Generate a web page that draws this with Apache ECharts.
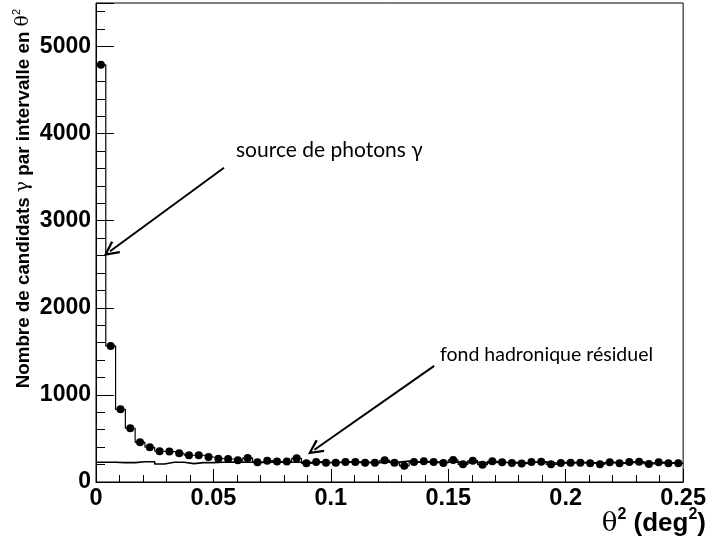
<!DOCTYPE html>
<html>
<head>
<meta charset="utf-8">
<script src="https://cdn.jsdelivr.net/npm/echarts@6/dist/echarts.min.js"></script>
<style>
html, body { margin: 0; padding: 0; background: #fff; }
#main { width: 709px; height: 540px; }
</style>
</head>
<body>
<div id="main"></div>
<script>
// theta2 histogram, 60 bins between 0 and 0.25 deg2
var binWidth = 0.25 / 60;
var onCounts = [4790, 1563, 835, 617, 456, 399, 353, 349, 330, 307,
    307, 287, 268, 264, 249, 276, 228, 245, 235, 236,
    272, 215, 230, 222, 222, 230, 230, 222, 222, 249,
    222, 186, 230, 238, 230, 218, 253, 203, 245, 199,
    238, 226, 218, 211, 230, 233, 203, 218, 222, 222,
    215, 203, 226, 215, 230, 233, 207, 226, 215, 215];
var offCounts = [226, 226, 222, 222, 233, 233, 207, 226, 226, 211,
    222, 222, 226, 228, 230, 226, 224, 228, 230, 226,
    226, 222, 228, 224, 226, 228, 224, 226, 222, 230,
    228, 241, 226, 228, 224, 226, 230, 222, 226, 220,
    228, 224, 222, 220, 226, 228, 218, 222, 224, 222,
    220, 218, 224, 220, 226, 224, 218, 222, 220, 218];
var xTicks = [0, 0.05, 0.1, 0.15, 0.2, 0.25];
// arrows: [start, end] in data units
var arrowSource = [[0.0545, 3609], [0.0060, 2650]];
var arrowFond = [[0.1440, 1333], [0.0930, 370]];

function stepData(counts) {
    var out = [];
    for (var i = 0; i < counts.length; i++) {
        out.push([i * binWidth, counts[i]]);
    }
    out.push([counts.length * binWidth, counts[counts.length - 1]]);
    return out;
}

function pointData(counts) {
    var out = [];
    for (var i = 0; i < counts.length; i++) {
        out.push([(i + 0.5) * binWidth, counts[i]]);
    }
    return out;
}

var arrowHead = 'path://M0,0 L6,11 L4.4,12 L0,3.6 L-4.4,12 L-6,11 Z';

var chart = echarts.init(document.getElementById('main'));
var labelFont = 'Liberation Sans, Arial, sans-serif';
chart.setOption({
    animation: false,
    grid: { left: 96, right: 21, top: 3, bottom: 58, show: true, borderColor: '#000', borderWidth: 1 },
    xAxis: {
        type: 'value', min: 0, max: 0.25, interval: 0.05,
        axisLine: { lineStyle: { color: '#000', width: 1 } },
        axisTick: { inside: true, length: 13, lineStyle: { color: '#000' } },
        minorTick: { show: true, splitNumber: 5, length: 7, lineStyle: { color: '#000' } },
        splitLine: { show: false },
        axisLabel: {
            color: '#000', fontFamily: labelFont, fontWeight: 'bold', fontSize: 23.5, margin: 5,
            formatter: function (v) {
                for (var i = 0; i < xTicks.length; i++) {
                    if (Math.abs(v - xTicks[i]) < 1e-9) return String(xTicks[i]);
                }
                return '';
            }
        }
    },
    yAxis: {
        type: 'value', min: 0, max: 5500, interval: 1000,
        axisLine: { show: true, lineStyle: { color: '#000', width: 1 } },
        axisTick: { inside: true, length: 18, lineStyle: { color: '#000' } },
        minorTick: { show: true, splitNumber: 5, length: 9, lineStyle: { color: '#000' } },
        splitLine: { show: false },
        axisLabel: {
            color: '#000', fontFamily: labelFont, fontWeight: 'bold', fontSize: 23, margin: 5,
            formatter: function (v) { return v > 5000 ? '' : String(v); }
        }
    },
    series: [
        {
            name: 'off', type: 'line', step: 'end', data: stepData(offCounts),
            showSymbol: false, lineStyle: { color: '#000', width: 1.6 }, z: 2
        },
        {
            name: 'on', type: 'line', step: 'end', data: stepData(onCounts),
            showSymbol: false, lineStyle: { color: '#000', width: 1.2 }, z: 3,
            markLine: {
                silent: true, animation: false,
                symbol: ['none', arrowHead], symbolSize: [15, 16],
                label: { show: false },
                lineStyle: { color: '#000', width: 2, type: 'solid' },
                data: [
                    [{ coord: arrowSource[0] }, { coord: arrowSource[1] }],
                    [{ coord: arrowFond[0] }, { coord: arrowFond[1] }]
                ]
            }
        },
        {
            name: 'points', type: 'scatter', data: pointData(onCounts),
            symbol: 'circle', symbolSize: 8, itemStyle: { color: '#000', opacity: 1 }, z: 4
        }
    ],
    graphic: [
        {
            type: 'text', left: 236, top: 140,
            style: { text: 'source de photons γ', font: '21px Lato, sans-serif', fill: '#000' }
        },
        {
            type: 'text', left: 440, top: 345,
            style: { text: 'fond hadronique résiduel', font: '19.5px Lato, sans-serif', fill: '#000' }
        },
        {
            type: 'text', x: 706, y: 507,
            style: {
                text: '{g|θ}{s|2}{b| (deg}{s|2}{b|)}', align: 'right', fill: '#000',
                rich: {
                    g: { fontFamily: 'DejaVu Serif', fontSize: 26, lineHeight: 30, verticalAlign: 'bottom' },
                    b: { fontFamily: labelFont, fontWeight: 'bold', fontSize: 26, lineHeight: 30, verticalAlign: 'bottom' },
                    s: { fontFamily: labelFont, fontWeight: 'bold', fontSize: 16, lineHeight: 16, verticalAlign: 'top' }
                }
            }
        },
        {
            type: 'text', x: 22, y: 9, rotation: Math.PI / 2,
            style: {
                text: '{b|Nombre de candidats }{g|γ}{b| par intervalle en }{g|θ}{s|2}',
                align: 'right', verticalAlign: 'middle', fill: '#000',
                rich: {
                    g: { fontFamily: 'DejaVu Serif', fontSize: 18.8, lineHeight: 22, verticalAlign: 'bottom' },
                    b: { fontFamily: labelFont, fontWeight: 'bold', fontSize: 18.8, lineHeight: 22, verticalAlign: 'bottom' },
                    s: { fontFamily: labelFont, fontSize: 11, lineHeight: 11, verticalAlign: 'top' }
                }
            }
        }
    ]
});
</script>
</body>
</html>
